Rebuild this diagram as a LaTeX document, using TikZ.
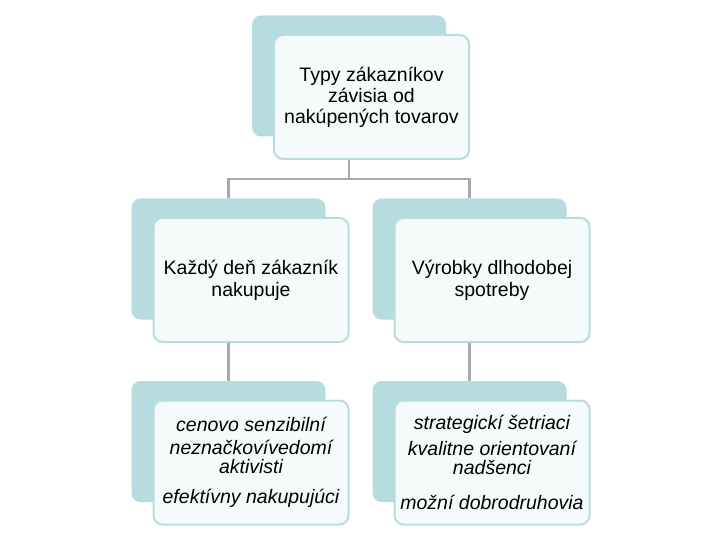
\documentclass[tikz,border=0pt]{standalone}
\usepackage{fontspec}
\setmainfont{Liberation Sans}
\usetikzlibrary{positioning}
\definecolor{tealback}{HTML}{B6DCDF}
\definecolor{tealedge}{HTML}{BADCE0}
\definecolor{cardfill}{HTML}{F5FAFB}
\definecolor{linkgray}{HTML}{A3ABAD}
\tikzset{>=latex}

\begin{document}
\begin{tikzpicture}[x=1pt, y=-1pt,
  shadowbox/.style={rectangle, rounded corners=9pt, fill=tealback, minimum width=194pt, minimum height=121pt, inner sep=0pt},
  card/.style={rectangle, rounded corners=9pt, draw=tealedge, line width=2pt, fill=cardfill, minimum width=195pt, minimum height=124pt, inner sep=2pt, align=center, text=black, font=\fontsize{19.5}{21}\selectfont},
  link/.style={draw=linkgray, line width=2.2pt},
  node distance=21pt and 22.5pt, on grid]
  \useasboundingbox (0,0) rectangle (720,540);
  % top level
  \node[shadowbox] (tb) at (349,76) {};
  \node[card] (tf) [below right=of tb] {Typy zákazníkov\\závisia od\\nakúpených tovarov};
  % second level
  \node[shadowbox] (lb) [below left=183pt and 120.5pt of tb] {};
  \node[card, font=\fontsize{19.5}{22}\selectfont] (lf) [below right=of lb] {Každý deň zákazník\\nakupuje};
  \node[shadowbox] (rb) [below right=183pt and 120.5pt of tb] {};
  \node[card, font=\fontsize{19.5}{22}\selectfont] (rf) [below right=of rb] {Výrobky dlhodobej\\spotreby};
  % third level
  \node[shadowbox] (lbb) [below=182.5pt of lb] {};
  \node[card, font=\fontsize{19.5}{19}\selectfont\itshape] (lff) [below right=of lbb]
    {cenovo senzibilní\\[4pt]neznačkovívedomí\\aktivisti\\[11pt]efektívny nakupujúci};
  \node[shadowbox] (rbb) [below=182.5pt of rb] {};
  \node[card, font=\fontsize{19.5}{19}\selectfont\itshape] (rff) [below right=of rbb]
    {strategickí šetriaci\\[7pt]kvalitne orientovaní\\nadšenci\\[16pt]možní dobrodruhovia};
  % connectors
  \draw[link] (tb |- tf.south) -- ++(0,19) -| (lb.north);
  \draw[link] (tb |- tf.south) -- ++(0,19) -| (rb.north);
  \draw[link] (lb |- lf.south) -- (lbb.north);
  \draw[link] (rb |- rf.south) -- (rbb.north);
\end{tikzpicture}
\end{document}
